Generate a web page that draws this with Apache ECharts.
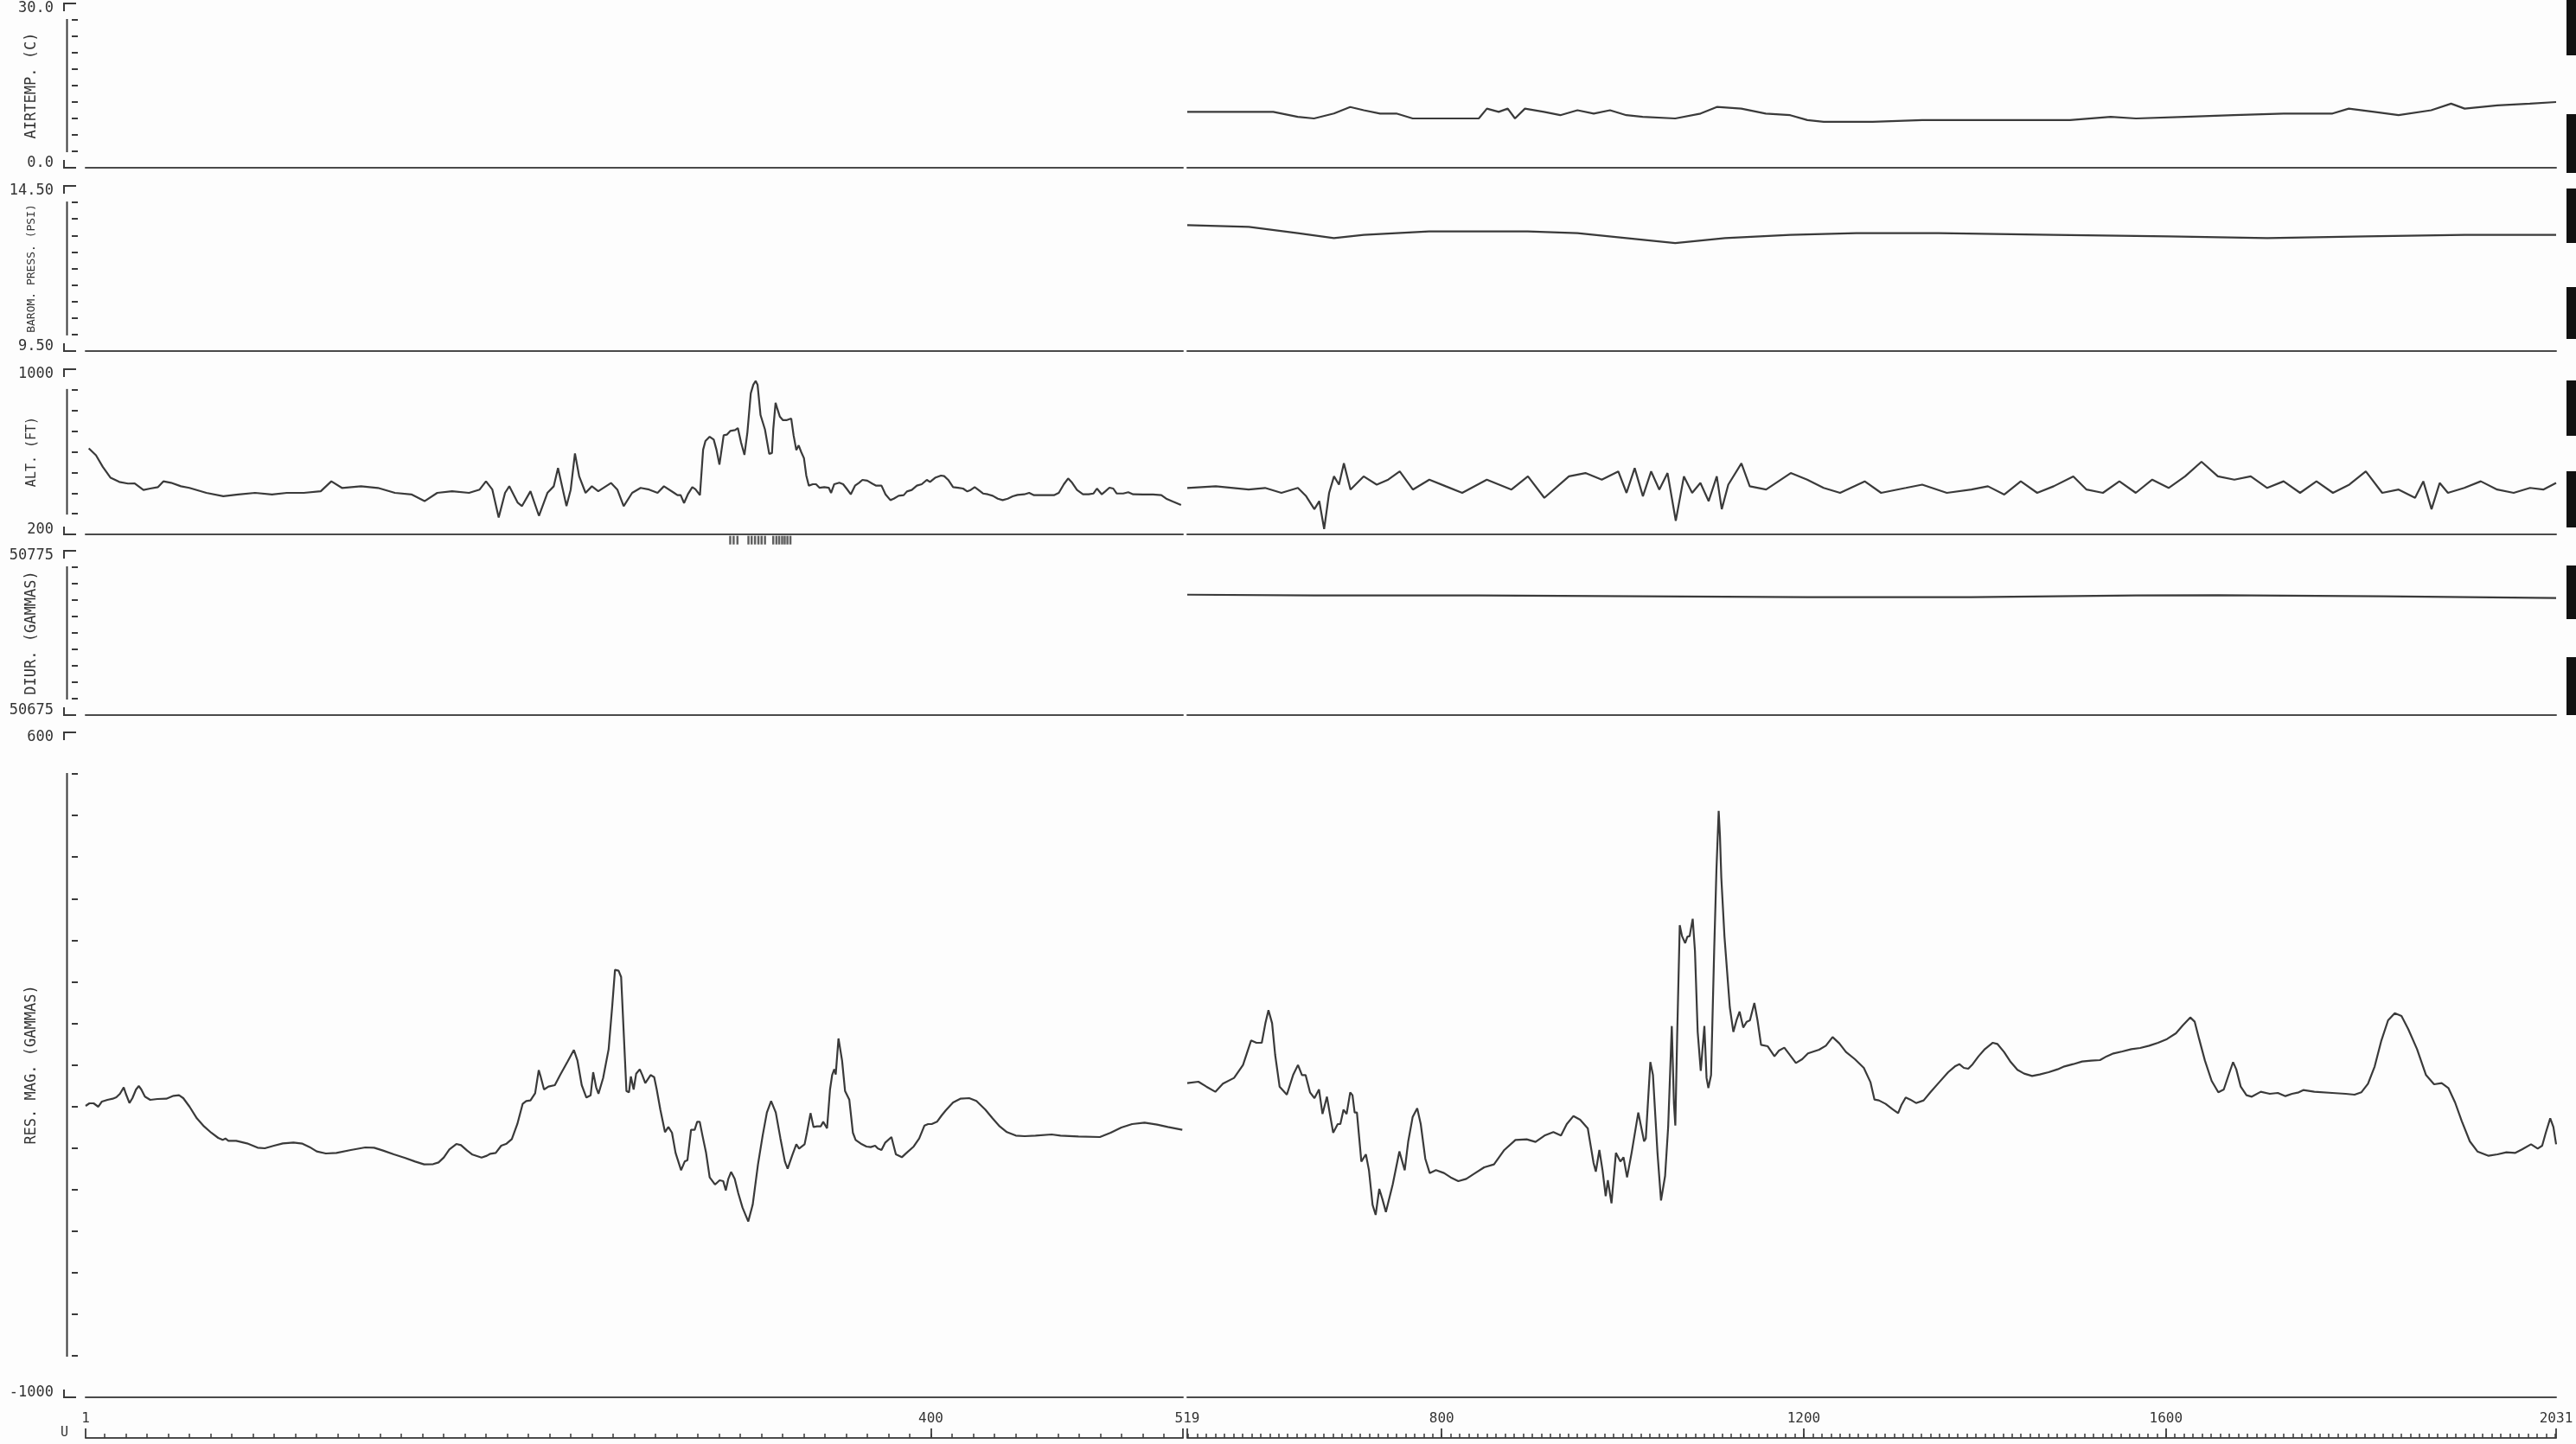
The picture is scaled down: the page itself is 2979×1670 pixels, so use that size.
<!DOCTYPE html>
<html>
<head>
<meta charset="utf-8">
<script src="https://cdn.jsdelivr.net/npm/echarts@6/dist/echarts.min.js"></script>
<style>
  html, body { margin: 0; padding: 0; background: #fdfdfd; }
  #chart { width: 2979px; height: 1670px; }
</style>
</head>
<body>
<div id="chart"></div>
<script>
// Fiducial spans of the two plotted line segments
const LEFT_SPAN = [1, 519];
const RIGHT_SPAN = [519, 2031];

// Fiducial labels printed along the bottom scale
const fidLabelsLeft = [1, 400];
const fidLabelsRight = [519, 800, 1200, 1600, 2031];

// Air temperature (C), second segment
const airTempRight = [
  [519,10.2],[550,10.2],[587,10.2],[614,10.2],[641,9.3],[659,9.0],[681,9.9],[699,11.1],[714,10.5],
  [732,9.9],[750,9.9],[768,9.0],[804,9.0],[841,9.0],[850,10.8],[863,10.2],[873,10.8],[881,9.0],
  [892,10.8],[913,10.2],[931,9.6],[950,10.5],[968,9.9],[986,10.5],[1004,9.6],[1022,9.3],[1058,9.0],
  [1086,9.9],[1104,11.1],[1131,10.8],[1158,9.9],[1185,9.6],[1204,8.7],[1222,8.4],[1276,8.4],
  [1331,8.7],[1385,8.7],[1440,8.7],[1494,8.7],[1539,9.3],[1567,9.0],[1621,9.3],[1675,9.6],
  [1730,9.9],[1784,9.9],[1802,10.8],[1830,10.2],[1857,9.6],[1893,10.5],[1915,11.7],[1930,10.8],
  [1966,11.4],[2002,11.7],[2031,12.0]
];

// Barometric pressure (PSI), second segment
const baroPressRight = [
  [519,13.31],[587,13.26],[641,13.07],[681,12.92],[714,13.02],[786,13.12],[895,13.12],[950,13.07],
  [1004,12.92],[1058,12.77],[1113,12.92],[1185,13.02],[1258,13.07],[1349,13.07],[1476,13.02],
  [1603,12.97],[1712,12.92],[1820,12.97],[1930,13.02],[2031,13.02]
];

// Altitude (FT)
const altLeft = [
  [2.5,617],[5.9,583],[9.1,527],[12.8,474],[16.9,454],[21,446],[24.2,447],[28.3,415],[31.5,422],
  [35.2,429],[37.7,457],[41.3,450],[46,433],[50,425],[58,401],[66,385],[73,393],[81,401],[89,393],
  [96,401],[104,401],[112,409],[117,457],[122,425],[131,433],[139,425],[147,401],[155,393],[161,361],
  [167,401],[174,409],[182,401],[187,417],[190,457],[193,417],[196,282],[199,401],[201,433],[205,353],
  [207,337],[211,409],[215,290],[219,401],[222,433],[224,521],[228,337],[230,417],[232,592],[234,481],
  [237,401],[240,433],[243,409],[249,449],[252,417],[255,337],[259,401],[263,425],[267,417],[271,401],
  [274,433],[278.8,401],[280.4,390],[281.9,390],[283.5,352],[285.3,394],[287.4,429],[288.9,418],
  [291.0,390],[292.5,610],[293.6,652],[295.6,673],[297.5,659],[298.8,610],[300.2,538],[302.2,680],
  [303.7,683],[305.3,701],[307.6,705],[308.9,715],[310.4,645],[312.0,585],[313.4,694],[315.0,883],
  [316.2,925],[317.3,943],[318.2,925],[319.6,778],[321.7,708],[323.7,590],[325.0,594],[325.6,708],
  [326.7,837],[327.4,813],[328.7,771],[330.2,753],[331.8,753],[334.1,761],[335.2,680],[336.5,608],
  [337.6,631],[338.8,599],[340.1,569],[341.2,485],[342.4,436],[344.3,443],[345.8,443],[347.4,426],
  [349.7,429],[351.8,426],[352.9,401],[354.4,443],[356.8,450],[358.6,443],[360.2,422],[362.2,394],
  [364.2,436],[366.1,450],[367.7,464],[370.0,460],[372.3,446],[374.2,436],[376.7,436],[378.6,394],
  [380.9,366],[382.5,373],[384.8,387],[387.2,390],[388.7,408],[391.0,415],[393.4,436],[395.7,443],
  [398.1,464],[399.6,454],[402.0,474],[404.8,485],[406.3,482],[408.2,464],[410.5,429],[412.9,426],
  [415.2,422],[417.2,408],[418.8,415],[420.7,429],[422.5,415],[424.6,398],[426.9,394],[429.2,387],
  [431.6,373],[433.9,366],[436.3,373],[438.6,384],[440.9,391],[444.1,394],[446.4,401],[448.7,390],
  [451.8,390],[455.0,390],[458.1,390],[460.4,401],[462.8,443],[464.8,471],[466.7,450],[469.0,415],
  [471.8,394],[474.5,394],[476.8,398],[478.4,422],[480.7,394],[482.3,408],[484.3,426],[486.1,422],
  [487.7,398],[490.8,398],[493.2,404],[495.5,394],[500.2,393],[504.9,393],[508.8,390],[511.1,373],
  [514.2,359],[518.1,342]
];
const altRight = [
  [519,425],[550.5,433],[586.8,417],[604.9,425],[623,401],[641.2,425],[650.3,385],[659.4,322],
  [664.8,361],[670.2,226],[675.7,401],[681.1,481],[686.6,441],[692,544],[699.3,417],[713.8,481],
  [728.3,441],[741,465],[753.7,505],[768.2,417],[786.4,465],[804.5,433],[822.7,401],[849.9,465],
  [877.1,417],[895.3,481],[913.4,377],[940.6,481],[958.8,497],[976.9,465],[995.1,505],[1004.2,401],
  [1013.2,521],[1022.3,385],[1031.4,505],[1040.4,417],[1049.5,497],[1058.6,266],[1067.6,481],
  [1076.7,401],[1085.8,449],[1094.9,361],[1103.9,481],[1109.4,322],[1116.6,441],[1131.1,544],
  [1140.3,433],[1158.4,417],[1185.6,497],[1203.8,465],[1221.9,425],[1240.1,401],[1267.3,457],
  [1285.4,401],[1312.7,425],[1330.8,441],[1358,401],[1385.2,417],[1403.4,433],[1421.5,393],
  [1439.7,457],[1457.8,401],[1476,433],[1497.7,481],[1512.3,417],[1530.4,401],[1548.6,457],
  [1566.7,401],[1584.9,465],[1603,425],[1621.2,481],[1639.3,552],[1657.4,481],[1675.6,465],
  [1693.7,481],[1711.9,425],[1730,457],[1748.2,401],[1766.3,457],[1784.5,401],[1802.6,441],
  [1820.8,505],[1838.9,401],[1857.1,417],[1875.2,377],[1884.3,457],[1893.4,322],[1902.4,449],
  [1911.5,401],[1929.6,425],[1947.8,457],[1965.9,417],[1984.1,401],[2002.2,425],[2016.8,417],
  [2031,449]
];
// Event marks printed under the altitude trace
const altEventFids = [305.3, 306.9, 308.7, 313.9, 315.4, 317.0, 318.6, 320.1, 321.7,
  325.6, 327.1, 328.4, 329.8, 331.0, 332.3, 333.7];
const ALT_EVENT_LEVEL = 172;

// Diurnal base station (GAMMAS), second segment
const diurnalRight = [
  [519,50748.3],[659,50747.8],[841,50747.8],[1022,50747.3],[1204,50746.8],[1385,50746.8],
  [1567,50747.8],[1658,50748.0],[1840,50747.3],[2031,50746.3]
];

// Residual magnetic field (GAMMAS)
const resMagLeft = [
  [1,-298.8],[2.8,-292.6],[4.8,-292.6],[7.0,-300.9],[8.7,-288.4],[11.3,-284.3],[13.8,-281.5],
  [15.5,-278.0],[17.2,-269.7],[19.0,-254.4],[20.0,-269.7],[21.7,-291.9],[23.1,-280.1],[24.8,-259.3],
  [26.1,-251.0],[27.3,-259.3],[29.0,-276.6],[31.5,-284.3],[34.9,-282.2],[39.1,-281.5],[42.5,-274.5],
  [45.1,-273.2],[47.1,-280.1],[50.1,-300.9],[53.5,-328.6],[56.9,-348.1],[60.3,-363.3],[63.6,-375.8],
  [65.7,-380.7],[67.0,-377.2],[68.4,-382.7],[72.1,-382.7],[77.2,-389.0],[82.2,-399.4],[85.6,-400.8],
  [89.9,-394.5],[94.1,-389.0],[99.1,-386.9],[103.4,-389.7],[106.8,-398.0],[110.1,-408.4],
  [114.4,-413.3],[119.4,-411.9],[126.2,-404.9],[133.0,-398.7],[137.2,-399.4],[141.4,-406.3],
  [146.5,-415.3],[151.6,-423.7],[156.6,-432.7],[160.8,-439.6],[165.1,-438.9],[167.6,-434.8],
  [170.1,-423.0],[172.7,-403.5],[176.0,-390.4],[178.2,-393.1],[181.1,-406.3],[183.6,-416.0],
  [187.9,-423.0],[190.4,-418.8],[192.1,-413.9],[194.6,-411.9],[197.2,-394.5],[199.7,-389.7],
  [202.2,-378.6],[204.8,-342.5],[207.3,-294.0],[209.0,-287.0],[211.0,-285.6],[213.2,-268.3],
  [214.9,-212.8],[215.8,-228.1],[217.4,-259.3],[219.5,-252.4],[222.5,-248.9],[225.0,-224.6],
  [228.4,-193.4],[231.5,-164.3],[233.2,-190.0],[235.2,-248.9],[237.4,-278.7],[239.4,-273.2],
  [240.6,-217.7],[242.0,-253.7],[243.1,-269.7],[245.3,-231.6],[247.9,-162.2],[249.6,-58.2],
  [250.9,28.5],[252.6,26.4],[253.8,11.2],[255.0,-120.6],[256.3,-262.8],[257.5,-266.2],[258.4,-228.1],
  [259.7,-259.3],[260.9,-221.2],[262.6,-210.7],[263.8,-224.6],[265.2,-244.0],[267.7,-224.6],
  [269.4,-229.5],[270.6,-259.3],[272.3,-307.8],[274.5,-361.9],[276.1,-349.4],[277.8,-363.3],
  [279.5,-411.9],[282.1,-453.5],[283.8,-432.7],[285.1,-429.2],[286.8,-356.4],[288.5,-356.4],
  [289.7,-337.0],[290.9,-337.0],[292.2,-370.3],[293.9,-411.9],[295.6,-470.8],[298.1,-488.1],
  [300.3,-477.7],[302.0,-479.8],[303.2,-502.0],[304.4,-474.3],[305.7,-457.6],[307.4,-474.3],
  [309.1,-508.9],[311.1,-543.6],[313.8,-576.9],[315.9,-536.7],[318.4,-439.6],[320.6,-370.3],
  [322.6,-314.8],[324.6,-287.0],[326.8,-314.8],[329.0,-377.2],[331.1,-432.7],[332.4,-450.0],
  [334.5,-418.8],[336.5,-391.1],[337.8,-401.5],[340.4,-391.1],[341.5,-363.3],[343.2,-316.2],
  [344.6,-349.4],[346.3,-348.1],[348.0,-348.1],[349.2,-337.0],[351.0,-352.9],[352.4,-259.3],
  [353.4,-224.6],[354.4,-210.7],[355.1,-223.2],[356.4,-136.5],[358.1,-190.0],[359.5,-262.8],
  [361.5,-283.6],[363.2,-363.3],[364.5,-380.7],[367.4,-391.1],[369.6,-396.6],[371.6,-398.0],
  [373.7,-394.5],[375.0,-401.5],[376.7,-404.9],[378.4,-387.6],[381.4,-373.7],[383.5,-415.3],
  [386.3,-422.3],[388.5,-411.9],[391.9,-396.6],[394.5,-377.2],[397.0,-346.0],[398.7,-342.5],
  [400.4,-342.5],[402.9,-337.0],[405.1,-321.7],[407.1,-309.2],[410.5,-290.5],[413.9,-281.5],
  [418.1,-280.1],[421.5,-287.0],[425.7,-307.8],[429.1,-328.6],[432.5,-348.1],[435.9,-361.9],
  [440.1,-370.3],[444.3,-371.6],[449.4,-370.3],[457.0,-367.5],[461.2,-370.3],[469.7,-372.3],
  [479.8,-373.7],[484.9,-363.3],[489.9,-350.8],[495.0,-342.5],[500.9,-339.0],[506.8,-343.9],
  [511.9,-349.4],[518.7,-356.4]
];
const resMagRight = [
  [519,-244.0],[531.3,-240.6],[540.1,-252.4],[550.0,-264.8],[558.4,-245.4],[570.7,-231.5],
  [580.6,-200.3],[589.5,-141.4],[595.4,-146.9],[601.3,-146.9],[605.3,-99.8],[608.7,-68.6],
  [612.7,-99.8],[616.1,-176.1],[621.0,-252.4],[629.0,-271.8],[635.9,-224.6],[641.3,-200.3],
  [645.7,-224.6],[649.7,-224.6],[654.6,-266.2],[659.5,-280.1],[664.5,-259.3],[668.4,-318.2],
  [673.3,-276.6],[676.8,-321.7],[680.2,-363.3],[685.2,-342.5],[688.1,-342.5],[691.6,-307.8],
  [695.0,-318.2],[699.0,-266.2],[701.5,-273.2],[703.9,-314.8],[706.4,-314.8],[711.3,-432.7],
  [716.3,-415.3],[719.7,-453.5],[723.7,-536.7],[727.1,-561.0],[731.1,-498.5],[734.5,-522.8],
  [738.4,-554.0],[745.9,-488.1],[753.3,-408.4],[759.2,-453.5],[763.1,-384.1],[768.0,-325.2],
  [773.0,-304.4],[776.9,-342.5],[781.9,-425.7],[786.8,-460.4],[793.7,-453.5],[802.6,-460.4],
  [810.0,-470.8],[818.4,-479.8],[827.2,-474.3],[837.1,-460.4],[847.0,-446.5],[857.8,-439.6],
  [869.2,-404.9],[881.5,-380.7],[893.9,-379.3],[903.7,-385.5],[913.6,-370.3],[923.4,-361.9],
  [931.8,-370.3],[938.2,-342.5],[945.6,-323.1],[953.0,-332.1],[961.4,-352.9],[967.8,-436.1],
  [970.3,-456.9],[974.2,-404.9],[977.7,-453.5],[981.2,-515.9],[983.6,-477.7],[987.6,-533.2],
  [992.5,-411.9],[997.4,-432.7],[1000.9,-422.3],[1004.8,-470.8],[1009.8,-411.9],[1017.2,-314.8],
  [1023.6,-384.1],[1025.5,-377.2],[1030.5,-193.4],[1033.4,-224.6],[1038.4,-411.9],[1042.3,-526.3],
  [1046.8,-467.3],[1050.2,-349.4],[1054.2,-106.7],[1056.6,-293.9],[1058.1,-346.0],[1060.1,-134.5],
  [1063.0,136.0],[1065.5,109.7],[1069.0,93.0],[1071.4,108.3],[1073.9,109.7],[1077.3,151.3],
  [1079.8,73.6],[1082.8,-120.6],[1086.2,-214.2],[1090.2,-106.7],[1092.6,-231.5],[1094.6,-255.8],
  [1097.6,-224.6],[1101.0,73.6],[1103.5,267.8],[1106.0,411.3],[1107.4,351.0],[1108.9,250.4],
  [1112.4,108.3],[1118.3,-61.6],[1122.2,-120.6],[1125.7,-92.8],[1129.1,-72.0],[1133.1,-110.2],
  [1137.0,-96.3],[1140.5,-92.8],[1145.4,-51.2],[1148.9,-92.8],[1152.8,-151.8],[1160.2,-155.3],
  [1167.6,-179.5],[1172.6,-165.7],[1178.5,-158.7],[1183.4,-172.6],[1191.3,-195.5],[1198.2,-186.5],
  [1204.6,-172.6],[1216.9,-163.6],[1224.4,-153.9],[1231.8,-133.1],[1239.2,-148.3],[1246.6,-169.1],
  [1256.5,-186.5],[1266.3,-207.3],[1273.7,-241.9],[1278.1,-283.5],[1283.0,-285.6],[1290.4,-293.9],
  [1297.8,-306.4],[1304.2,-316.2],[1307.7,-297.4],[1312.6,-278.7],[1317.6,-283.5],[1324.0,-291.9],
  [1332.4,-285.6],[1339.8,-266.2],[1349.6,-241.9],[1359.5,-217.7],[1366.9,-203.8],[1371.8,-198.3],
  [1376.8,-207.3],[1381.7,-209.3],[1386.6,-198.3],[1393.0,-179.5],[1400.0,-162.2],[1408.8,-146.9],
  [1413.8,-149.7],[1421.2,-169.1],[1428.6,-193.4],[1436.0,-212.1],[1443.4,-221.1],[1452.2,-226.7],
  [1460.6,-223.2],[1470.5,-217.7],[1480.4,-210.7],[1487.8,-203.8],[1497.6,-198.3],[1507.5,-192.0],
  [1517.4,-189.9],[1527.2,-188.5],[1534.6,-179.5],[1542.0,-172.6],[1551.9,-167.7],[1561.8,-162.2],
  [1571.6,-159.4],[1581.5,-153.9],[1591.3,-146.9],[1601.2,-137.9],[1611.1,-124.0],[1618.5,-105.3],
  [1626.9,-85.9],[1631.8,-96.3],[1636.7,-137.9],[1643.1,-189.9],[1650.5,-238.5],[1657.9,-266.2],
  [1663.9,-259.3],[1670.3,-217.7],[1674.2,-193.4],[1677.7,-210.7],[1682.6,-252.3],[1689.0,-273.2],
  [1694.9,-276.6],[1704.8,-264.8],[1714.7,-269.7],[1723.6,-267.6],[1732.0,-275.2],[1739.3,-269.7],
  [1746.7,-266.2],[1751.7,-260.7],[1764.0,-264.8],[1783.7,-267.6],[1798.5,-269.7],[1808.4,-271.8],
  [1815.8,-266.2],[1823.2,-245.4],[1830.6,-203.8],[1838.0,-141.4],[1845.4,-92.8],[1852.8,-75.5],
  [1860.2,-82.4],[1867.6,-113.6],[1877.4,-162.2],[1887.3,-224.6],[1896.2,-246.8],[1904.6,-244.0],
  [1912.0,-255.8],[1919.4,-290.5],[1926.8,-335.6],[1935.7,-384.1],[1944.1,-408.4],[1956.4,-418.8],
  [1966.3,-415.3],[1976.1,-410.5],[1986.0,-411.9],[1993.4,-403.5],[2003.3,-391.1],[2010.7,-401.5],
  [2015.6,-394.5],[2019.6,-363.3],[2024.5,-328.6],[2028.0,-349.4],[2031,-391.1]
];

// Channel definitions: axis range, step of the ruler ticks, label decimals
const channels = [
  { title: 'AIRTEMP. (C)',        min: 0,     max: 30,    step: 3,   digits: 1, left: null,       right: airTempRight },
  { title: 'BAROM. PRESS. (PSI)', min: 9.5,   max: 14.5,  step: 0.5, digits: 2, left: null,       right: baroPressRight },
  { title: 'ALT. (FT)',           min: 200,   max: 1000,  step: 100, digits: 0, left: altLeft,    right: altRight },
  { title: 'DIUR. (GAMMAS)',      min: 50675, max: 50775, step: 10,  digits: 0, left: null,       right: diurnalRight },
  { title: 'RES. MAG. (GAMMAS)',  min: -1000, max: 600,   step: 100, digits: 0, left: resMagLeft, right: resMagRight }
];

// Strip placement on the page
const strips = [
  { top: 4,   height: 190, titleSize: 17 },
  { top: 215, height: 191, titleSize: 13 },
  { top: 427, height: 191, titleSize: 15 },
  { top: 637, height: 190, titleSize: 17 },
  { top: 847, height: 769, titleSize: 17 }
];

// Dark torn patches along the right paper margin (top, bottom in px)
const marginPatches = [[0, 64], [132, 200], [218, 281], [332, 392], [440, 504], [545, 610], [654, 716], [760, 827]];

const INK = '#3a3a3a';
const FONT = 'DejaVu Sans Mono';
const SEG_LEFT = { left: 99, width: 1269 };
const SEG_RIGHT = { left: 1373, width: 1583 };
const AXIS_X = 90;          // pixel column of the ruler ticks' outer end
const TITLE_X = 37;         // centre column of the rotated channel titles

const chart = echarts.init(document.getElementById('chart'), null, { renderer: 'canvas' });

const grid = [], xAxis = [], yAxis = [], series = [];

function innerTicks(c) {
  const out = [];
  for (let v = c.min + c.step; v < c.max - c.step / 2; v += c.step) out.push(+v.toFixed(6));
  return out;
}

channels.forEach((c, i) => {
  const s = strips[i];
  [SEG_LEFT, SEG_RIGHT].forEach((seg, k) => {
    const g = grid.length;
    grid.push({ left: seg.left, width: seg.width, top: s.top, height: s.height, outerBoundsMode: 'none' });
    const span = k === 0 ? LEFT_SPAN : RIGHT_SPAN;
    xAxis.push({
      gridIndex: g, type: 'value', min: span[0], max: span[1], position: 'bottom',
      axisLine: { show: true, onZero: false, lineStyle: { color: '#4a4a4a', width: 2 } },
      axisTick: { show: false }, axisLabel: { show: false }, splitLine: { show: false }
    });
    if (k === 0) {
      yAxis.push({
        gridIndex: g, type: 'value', min: c.min, max: c.max, position: 'left',
        offset: seg.left - AXIS_X,
        axisLine: { show: false },
        axisTick: { show: true, length: 7, customValues: innerTicks(c),
                    lineStyle: { color: INK, width: 2 } },
        axisLabel: {
          show: true, customValues: [c.min, c.max], margin: 28,
          fontFamily: FONT, fontSize: 17, color: '#333',
          formatter: v => {
            const t = v.toFixed(c.digits);
            return Math.abs(v - c.max) < 1e-9 ? '{hi|' + t + '}' : '{lo|' + t + '}';
          },
          rich: {
            hi: { fontFamily: FONT, fontSize: 17, color: '#333', padding: [11, 0, 0, 0] },
            lo: { fontFamily: FONT, fontSize: 17, color: '#333', padding: [0, 0, 11, 0] }
          }
        },
        splitLine: { show: false }
      });
    } else {
      yAxis.push({ gridIndex: g, type: 'value', min: c.min, max: c.max, show: false });
    }
    const data = k === 0 ? c.left : c.right;
    if (data) {
      series.push({
        type: 'line', name: c.title, xAxisIndex: g, yAxisIndex: g, data,
        showSymbol: false, symbol: 'none', smooth: false, animation: false,
        lineStyle: { color: INK, width: 2.2 }
      });
    }
  });
});

// Event ticks below the altitude strip (left segment)
series.push({
  type: 'scatter', xAxisIndex: 4, yAxisIndex: 4, clip: false, animation: false,
  symbol: 'rect', symbolSize: [2.5, 10], itemStyle: { color: INK },
  data: altEventFids.map(f => [f, ALT_EVENT_LEVEL])
});

// Fiducial scale under the bottom strip
const SCALE_OFFSET = 47;
function tensBetween(a, b) {
  const out = [];
  for (let v = Math.ceil(a / 10) * 10; v <= b; v += 10) if (v > a && v < b) out.push(v);
  return out;
}
[[8, LEFT_SPAN, fidLabelsLeft, [1, 400, 519]], [9, RIGHT_SPAN, fidLabelsRight, fidLabelsRight]].forEach(([g, span, labels, majors]) => {
  xAxis.push({
    gridIndex: g, type: 'value', min: span[0], max: span[1], position: 'bottom', offset: SCALE_OFFSET,
    axisLine: { show: true, onZero: false, lineStyle: { color: '#4a4a4a', width: 2 } },
    axisTick: { show: true, inside: true, length: 5, customValues: tensBetween(span[0], span[1]),
                lineStyle: { color: INK, width: 1.5 } },
    axisLabel: { show: false }, splitLine: { show: false }
  });
  xAxis.push({
    gridIndex: g, type: 'value', min: span[0], max: span[1], position: 'bottom', offset: SCALE_OFFSET,
    axisLine: { show: false, onZero: false },
    axisTick: { show: true, inside: true, length: 11, customValues: majors,
                lineStyle: { color: INK, width: 1.8 } },
    axisLabel: { show: true, inside: true, margin: 14, customValues: labels,
                 fontFamily: FONT, fontSize: 16, color: '#333', formatter: v => String(Math.round(v)) },
    splitLine: { show: false }
  });
});

chart.setOption({
  backgroundColor: '#fdfdfd',
  animation: false,
  grid, xAxis, yAxis, series
});

// Channel titles, range brackets and tick rulers to the left of each strip
const deco = [];
const stroke = { stroke: INK, lineWidth: 2, fill: null };
channels.forEach((c, i) => {
  const yi = 2 * i;
  const yTop = chart.convertToPixel({ yAxisIndex: yi }, c.max);
  const yBot = chart.convertToPixel({ yAxisIndex: yi }, c.min);
  const yHi = chart.convertToPixel({ yAxisIndex: yi }, c.max - c.step);
  const yLo = chart.convertToPixel({ yAxisIndex: yi }, c.min + c.step);
  deco.push({ type: 'polyline', shape: { points: [[88, yTop], [74, yTop], [74, yTop + 9]] }, style: stroke, silent: true });
  deco.push({ type: 'polyline', shape: { points: [[74, yBot - 9], [74, yBot], [88, yBot]] }, style: stroke, silent: true });
  deco.push({ type: 'line', shape: { x1: 77.5, y1: yHi - 1, x2: 77.5, y2: yLo + 1 }, style: stroke, silent: true });
  deco.push({ type: 'text', x: TITLE_X, y: (yTop + yBot) / 2, rotation: Math.PI / 2, silent: true,
    style: { text: c.title, fontFamily: FONT, fontSize: strips[i].titleSize, fill: '#333',
             align: 'center', verticalAlign: 'middle' } });
});
deco.push({ type: 'text', left: 70, top: 1650, silent: true,
  style: { text: 'U', fontFamily: FONT, fontSize: 15, fill: '#333' } });
marginPatches.forEach(([t, b]) => {
  deco.push({ type: 'rect', silent: true, shape: { x: 2968, y: t, width: 11, height: b - t },
    style: { fill: '#111' } });
});
chart.setOption({ graphic: deco });
</script>
</body>
</html>
